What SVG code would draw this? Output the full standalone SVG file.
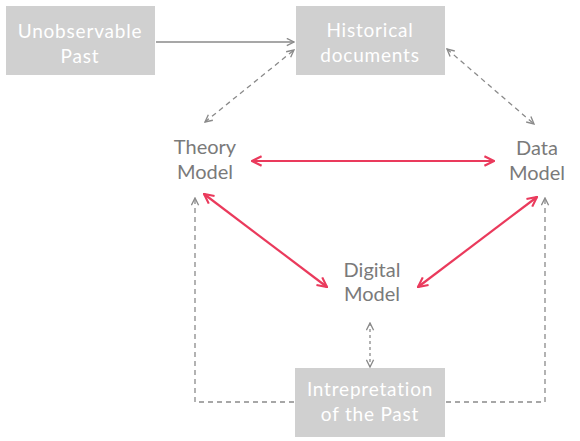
<svg xmlns="http://www.w3.org/2000/svg" width="580" height="441" viewBox="0 0 580 441">
<defs>
<style>
.box{fill:#d0d0d0}
.wt{font-family:Lato,"Open Sans",sans-serif;font-size:19px;letter-spacing:0.8px;fill:#fff;text-anchor:middle}
.mt{font-family:Lato,"Open Sans",sans-serif;font-size:20px;fill:#7a7a7a;text-anchor:middle}
.solid{stroke:#8a8a8a;stroke-width:1.5;fill:none}
.dash{stroke:#8a8a8a;stroke-width:1.3;fill:none;stroke-dasharray:5,4}
.dot{stroke:#8a8a8a;stroke-width:1.3;fill:none;stroke-dasharray:3,3}
.red{stroke:#ea3a5c;stroke-width:2.2;fill:none}
</style>
<marker id="ga" viewBox="0 0 10 10" refX="9" refY="5" markerWidth="9" markerHeight="9" markerUnits="userSpaceOnUse" orient="auto-start-reverse"><path d="M1,1 L9,5 L1,9" fill="none" stroke="#8a8a8a" stroke-width="1.5"/></marker>
<marker id="ra" viewBox="0 0 10 10" refX="9" refY="5" markerWidth="12" markerHeight="12" markerUnits="userSpaceOnUse" orient="auto-start-reverse"><path d="M1,1 L9,5 L1,9" fill="none" stroke="#ea3a5c" stroke-width="1.8"/></marker>
</defs>
<rect width="580" height="441" fill="#fff"/>
<g id="connectors">
<line class="solid" x1="156" y1="42" x2="294" y2="42" marker-end="url(#ga)"/>
<line class="dash" x1="205" y1="122" x2="294" y2="50" marker-start="url(#ga)" marker-end="url(#ga)"/>
<line class="dash" x1="447" y1="49" x2="534" y2="124" marker-start="url(#ga)" marker-end="url(#ga)"/>
<line class="red" x1="252" y1="161" x2="494" y2="161" marker-start="url(#ra)" marker-end="url(#ra)"/>
<line class="red" x1="204" y1="194" x2="327" y2="287" marker-start="url(#ra)" marker-end="url(#ra)"/>
<line class="red" x1="537" y1="197" x2="418" y2="287" marker-start="url(#ra)" marker-end="url(#ra)"/>
<line class="dot" x1="370" y1="323" x2="370" y2="367" marker-start="url(#ga)" marker-end="url(#ga)"/>
<polyline class="dash" points="294,402 195,402 195,198" marker-end="url(#ga)"/>
<polyline class="dash" points="446,402 545,402 545,198" marker-end="url(#ga)"/>
</g>
<g id="unobservable">
<rect class="box" x="6" y="6" width="149" height="69"/>
<text class="wt" x="80" y="38">Unobservable</text>
<text class="wt" x="80" y="63">Past</text>
</g>
<g id="historical">
<rect class="box" x="296" y="6" width="149" height="69"/>
<text class="wt" x="370" y="37">Historical</text>
<text class="wt" x="370" y="62">documents</text>
</g>
<g id="theory">
<text class="mt" x="205" y="154">Theory</text>
<text class="mt" x="205" y="179">Model</text>
</g>
<g id="data">
<text class="mt" x="537" y="155">Data</text>
<text class="mt" x="537" y="180">Model</text>
</g>
<g id="digital">
<text class="mt" x="372" y="277">Digital</text>
<text class="mt" x="372" y="301">Model</text>
</g>
<g id="interpretation">
<rect class="box" x="295" y="368" width="150" height="69"/>
<text class="wt" x="370" y="396">Intrepretation</text>
<text class="wt" x="370" y="421">of the Past</text>
</g>
</svg>
